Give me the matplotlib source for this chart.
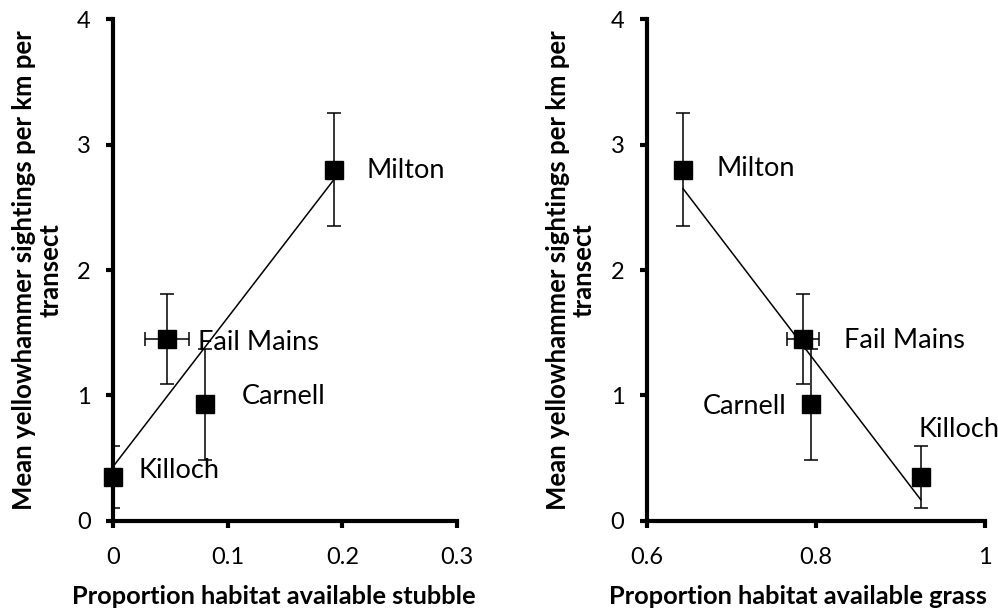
import numpy as np
import matplotlib
matplotlib.use("Agg")
import matplotlib.pyplot as plt

plt.rcParams["font.family"] = ["Lato", "DejaVu Sans"]

# sites, values
sites = ["Milton", "Fail Mains", "Carnell", "Killoch"]
sightings = [2.80, 1.45, 0.93, 0.35]
sightings_err = [0.45, 0.36, 0.44, 0.25]

stubble = [0.193, 0.047, 0.080, 0.0]
stubble_err = [0.0, 0.019, 0.0, 0.0]

grass = [0.643, 0.785, 0.794, 0.924]
grass_err = [0.0, 0.019, 0.0, 0.0]

# label placements (data coords, left edge / vertical centre)
stubble_lbl = [(0.221, 2.79), (0.074, 1.42), (0.112, 0.99), (0.022, 0.40)]
grass_lbl = [(0.683, 2.81), (0.833, 1.44), (0.666, 0.91), (0.921, 0.73)]

ylab = "Mean yellowhammer sightings per km per\ntransect"

fig = plt.figure(figsize=(9.98, 6.09), dpi=100)
ax1 = fig.add_axes([0.1132, 0.1445, 0.3447, 0.8243])
ax2 = fig.add_axes([0.648, 0.1445, 0.339, 0.8243])

panels = [
    (ax1, stubble, stubble_err, stubble_lbl, (0, 0.3), [0, 0.1, 0.2, 0.3], ["0", "0.1", "0.2", "0.3"],
     "Proportion habitat available stubble", -0.2195, 0.468),
    (ax2, grass, grass_err, grass_lbl, (0.6, 1.0), [0.6, 0.8, 1.0], ["0.6", "0.8", "1"],
     "Proportion habitat available grass", -0.2237, 0.447),
]

for ax, x, xerr, lbl, xlim, xt, xtl, xlabel, ylx, xlx in panels:
    ax.errorbar(x, sightings, yerr=sightings_err, xerr=xerr, fmt="none",
                ecolor="black", elinewidth=1.1, capsize=5, capthick=1.1, zorder=2)
    # fitted trend line
    m, b = np.polyfit(x, sightings, 1)
    xs = np.array([min(x), max(x)])
    ax.plot(xs, m * xs + b, color="black", lw=1.1, zorder=3)
    ax.plot(x, sightings, ls="none", marker="s", ms=13.5, color="black",
            clip_on=False, zorder=4)
    for name, (tx, ty) in zip(sites, lbl):
        ax.text(tx, ty, name, fontsize=19.5, ha="left", va="center")

    ax.set_xlim(*xlim)
    ax.set_ylim(0, 4)
    ax.set_xticks(xt)
    ax.set_xticklabels(xtl)
    ax.set_yticks([0, 1, 2, 3, 4])
    for s in ("top", "right"):
        ax.spines[s].set_visible(False)
    for s in ("left", "bottom"):
        ax.spines[s].set_linewidth(3)
    ax.tick_params(axis="both", direction="out", length=5, width=3, labelsize=17)
    ax.tick_params(axis="y", pad=11)
    ax.tick_params(axis="x", pad=14)

    ax.set_ylabel(ylab, fontsize=18.5, fontweight="bold", linespacing=1.1)
    ax.yaxis.set_label_coords(ylx, 0.5)
    ax.yaxis.label.set_va("center")
    ax.set_xlabel(xlabel, fontsize=18.3, fontweight="bold")
    ax.xaxis.set_label_coords(xlx, -0.151)
    ax.xaxis.label.set_va("center")

fig.savefig("out.png", dpi=100)
